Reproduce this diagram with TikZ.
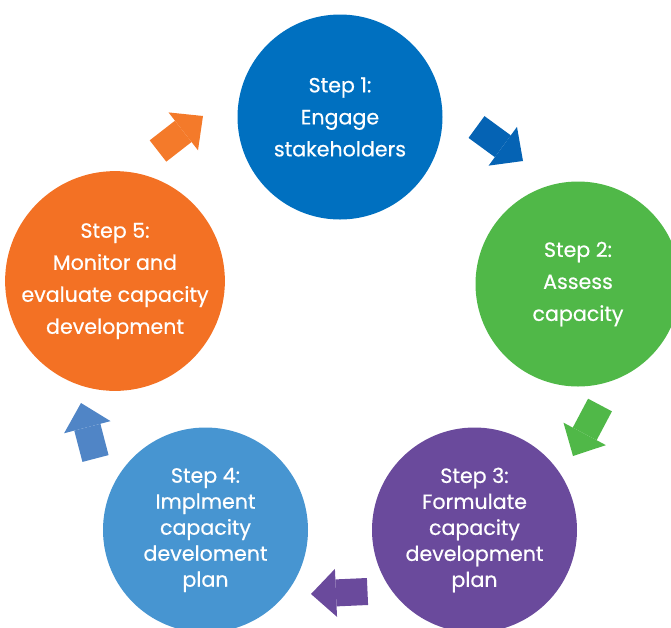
\documentclass[tikz,border=0pt]{standalone}
\usepackage{fontspec}
\setmainfont{Poppins}[FakeBold=0.5]
\usetikzlibrary{arrows.meta}
\definecolor{stepone}{HTML}{0070C0}
\definecolor{steptwo}{HTML}{50B848}
\definecolor{stepthree}{HTML}{6A4A9C}
\definecolor{stepfour}{HTML}{4795D1}
\definecolor{stepfive}{HTML}{F37124}
\definecolor{arrowone}{HTML}{0563B4}
\definecolor{arrowfour}{HTML}{5085C6}
\definecolor{arrowfive}{HTML}{F47A2A}

\begin{document}
\begin{tikzpicture}[x=0.5pt,y=-0.5pt,
   stepcircle/.style={circle,minimum size=102.5pt,inner sep=0pt,text=white,align=center,font=\fontsize{10.3}{16}\selectfont},
   longtext/.style={font=\fontsize{10.3}{13}\selectfont},
   steparrow/.style={line width=13.5pt,-{Triangle[width=24pt,length=12.5pt,line width=0pt]}}]
   \path[use as bounding box,clip] (0,0) rectangle (671,628);

   \node[stepcircle,fill=stepone] (s1) at (340,117) {Step 1:\\Engage\\stakeholders};
   \node[stepcircle,fill=steptwo] (s2) at (578,284) {Step 2:\\Assess\\capacity};
   \node[stepcircle,fill=stepthree,longtext] (s3) at (474.5,530) {Step 3:\\Formulate\\capacity\\development\\plan};
   \node[stepcircle,fill=stepfour,longtext] (s4) at (205.5,530) {Step 4:\\Implment\\capacity\\develoment\\plan};
   \node[stepcircle,fill=stepfive] (s5) at (115,281) {Step 5:\\Monitor and\\evaluate capacity\\development};

   \coordinate (t12) at (476.5,127);  \coordinate (h12) at (523,161);
   \coordinate (t23) at (600,405);    \coordinate (h23) at (573,456);
   \coordinate (t34) at (367.5,591.5);\coordinate (h34) at (311,594);
   \coordinate (t45) at (95.5,458.5); \coordinate (h45) at (81,403);
   \coordinate (t51) at (158,151);    \coordinate (h51) at (203,116);

   \draw[steparrow,arrowone] (t12) -- (h12);
   \draw[steparrow,steptwo] (t23) -- (h23);
   \draw[steparrow,stepthree] (t34) -- (h34);
   \draw[steparrow,arrowfour] (t45) -- (h45);
   \draw[steparrow,arrowfive] (t51) -- (h51);
\end{tikzpicture}
\end{document}
